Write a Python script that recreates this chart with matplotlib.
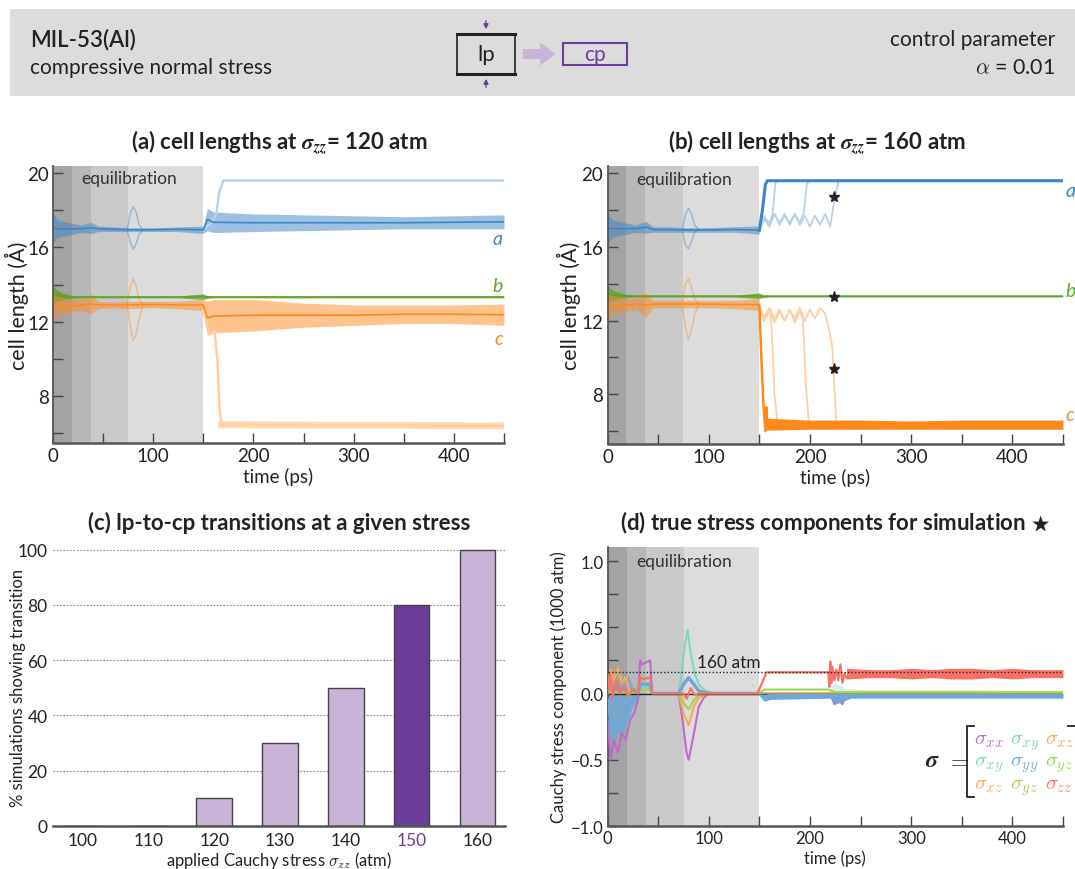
import matplotlib.pyplot as plt
import numpy as np
from matplotlib.patches import Rectangle

plt.rcParams['font.family'] = ['Lato', 'DejaVu Sans']
plt.rcParams['mathtext.fontset'] = 'cm'

# ---- colours
BLUE, LBLUE = '#3d85c6', '#b7d2ec'
GREEN = '#5fa52a'
ORANGE, LORANGE = '#ff8a1c', '#ffcfa3'
PURPLE, LPURPLE = '#6a3d9a', '#c9b3d6'
SHADES = ['#a3a3a3', '#b7b7b7', '#c9c9c9', '#dcdcdc']
EQ_EDGES = [0, 18.75, 37.5, 75, 150]

# ---- panel (a): sigma_zz = 120 atm, envelopes of the 10 runs
T_A = [0, 4, 10, 19, 28, 38, 45, 60, 75, 100, 125, 150, 154, 160, 200, 250, 300, 350, 400, 450]
A120_LO = [16.2, 16.5, 16.6, 16.7, 16.8, 16.75, 16.85, 16.85, 16.85, 16.85, 16.85, 16.75,
           16.9, 16.8, 16.85, 16.9, 16.95, 17.0, 17.0, 17.0]
A120_HI = [17.9, 17.5, 17.4, 17.3, 17.2, 17.35, 17.15, 17.1, 17.05, 17.05, 17.1, 17.15,
           18.1, 17.9, 17.8, 17.75, 17.7, 17.65, 17.7, 17.75]
B120_LO = [13.0, 13.1, 13.2, 13.25, 13.28, 13.28, 13.28, 13.28, 13.28, 13.28, 13.28, 13.2,
           13.25, 13.28, 13.28, 13.28, 13.28, 13.28, 13.28, 13.28]
B120_HI = [13.95, 13.7, 13.55, 13.42, 13.38, 13.38, 13.38, 13.38, 13.38, 13.38, 13.38, 13.5,
           13.4, 13.38, 13.38, 13.38, 13.38, 13.38, 13.38, 13.38]
C120_LO = [12.1, 12.3, 12.4, 12.5, 12.6, 12.4, 12.7, 12.75, 12.7, 12.75, 12.7, 12.6,
           11.3, 11.4, 11.5, 11.7, 11.8, 11.9, 11.9, 11.8]
C120_HI = [13.6, 13.4, 13.3, 13.2, 13.2, 13.5, 13.1, 13.05, 13.1, 13.1, 13.1, 13.2,
           13.1, 13.2, 13.2, 13.0, 12.9, 12.9, 12.9, 12.95]
T_BUMP = [74, 77, 80, 83, 86, 90]
A120_UP = [16.95, 17.8, 18.2, 17.9, 17.2, 16.95]
A120_DN = [16.95, 16.3, 15.9, 16.2, 16.7, 16.95]
C120_UP = [12.9, 13.9, 14.3, 13.9, 13.2, 12.9]
C120_DN = [12.9, 11.8, 11.0, 11.3, 12.2, 12.9]
A120_OUT_T = [150, 158, 163, 166, 170, 450]
A120_OUT = [17.0, 17.3, 17.8, 19.0, 19.6, 19.6]
C120_OUT_T = [150, 156, 161, 164, 166, 168, 450]
C120_OUT = [12.6, 11.3, 11.5, 10.0, 7.5, 6.45, 6.4]

# ---- panel (b): sigma_zz = 160 atm
T_B = [0, 4, 10, 19, 28, 38, 45, 60, 75, 100, 125, 150]
A160_LO = [16.1, 16.5, 16.6, 16.7, 16.8, 16.75, 16.8, 16.8, 16.8, 16.8, 16.8, 16.7]
A160_HI = [17.9, 17.5, 17.4, 17.3, 17.2, 17.4, 17.1, 17.1, 17.05, 17.05, 17.1, 17.15]
C160_LO = [12.0, 12.3, 12.4, 12.5, 12.6, 12.2, 12.7, 12.7, 12.7, 12.7, 12.65, 12.55]
C160_HI = [13.6, 13.4, 13.3, 13.2, 13.2, 13.5, 13.1, 13.1, 13.1, 13.1, 13.1, 13.2]
A160_UP = [16.95, 17.8, 18.1, 17.8, 17.2, 16.95]
A160_DN = [16.95, 16.1, 15.9, 16.3, 16.8, 16.95]
C160_UP = [12.9, 14.0, 14.3, 13.8, 13.2, 12.9]
C160_DN = [12.9, 11.6, 11.0, 11.5, 12.3, 12.9]
A160_MAIN_T = [150, 153, 156, 158, 450]
A160_MAIN = [16.9, 18.0, 19.4, 19.6, 19.6]
C160_MAIN_T = [150, 152, 154, 156, 157, 158, 160, 163]
C160_MAIN = [12.8, 10.0, 7.5, 6.0, 7.3, 6.3, 6.6, 6.3]
C160_BAND_T = [157, 200, 250, 300, 350, 400, 450]
C160_BAND_LO = [6.05, 6.1, 6.1, 6.1, 6.1, 6.1, 6.1]
C160_BAND_HI = [6.7, 6.6, 6.6, 6.55, 6.6, 6.6, 6.6]
# slower runs (light traces)
A160_R1_T = [150, 155, 160, 163, 166, 168, 450]
A160_R1 = [16.9, 17.6, 17.3, 17.8, 19.5, 19.6, 19.6]
A160_R2_T = [150, 155, 160, 165, 170, 175, 180, 185, 190, 194, 197, 199]
A160_R2 = [16.9, 17.7, 17.2, 17.8, 17.3, 17.8, 17.2, 17.8, 17.3, 17.9, 19.4, 19.6]
A160_R3_T = [150, 155, 160, 165, 170, 175, 180, 185, 190, 195, 200, 205, 210, 215, 220, 224, 228]
A160_R3 = [16.9, 17.5, 17.1, 17.8, 17.2, 17.7, 17.3, 17.8, 17.2, 17.7, 17.1, 17.7, 17.2, 17.8,
           17.1, 18.5, 19.5]
C160_R1_T = [150, 155, 160, 162, 165, 168, 450]
C160_R1 = [12.7, 12.0, 12.6, 11.8, 8.0, 6.4, 6.4]
C160_R2_T = [150, 155, 160, 165, 170, 175, 180, 185, 190, 193, 196, 199]
C160_R2 = [12.7, 12.0, 12.6, 11.9, 12.5, 12.0, 12.6, 11.9, 12.5, 12.1, 8.5, 6.4]
C160_R3_T = [150, 155, 160, 165, 170, 175, 180, 185, 190, 195, 200, 205, 210, 215, 219, 222, 224, 226, 230]
C160_R3 = [12.7, 12.2, 12.7, 12.1, 12.6, 12.0, 12.6, 12.1, 12.7, 12.0, 12.6, 12.1, 12.7, 12.4,
           11.5, 10.6, 8.5, 6.5, 6.4]
STAR_T = [224, 224, 224]
STAR_Y = [18.7, 13.3, 9.4]

# ---- panel (c)
STRESS = ['100', '110', '120', '130', '140', '150', '160']
PERCENT = [0, 0, 10, 30, 50, 80, 100]

# ---- panel (d): stress components (1000 atm) of the starred run
S_COLORS = {'xx': '#bb6bcc', 'xy': '#7ed6c4', 'xz': '#ffa74f',
            'yy': '#6ea8d8', 'yz': '#9dd650', 'zz': '#fa7065'}
XX_T = [0, 3, 6, 10, 14, 18, 22, 26, 30, 32, 34, 42, 44, 50, 70, 74, 78, 80, 84, 90, 95, 100,
        220, 224, 228, 232, 236, 450]
XX = [-0.2, -0.5, -0.35, -0.45, -0.3, -0.35, -0.2, -0.15, -0.05, 0.25, 0.22, 0.25, 0.0, 0.0,
      0.0, -0.2, -0.45, -0.5, -0.35, -0.1, -0.03, 0.0, 0.0, -0.08, -0.05, -0.08, 0.0, 0.0]
YY_T = [0, 5, 10, 15, 20, 25, 30, 32, 42, 44, 70, 75, 80, 85, 90, 100, 148]
YY = [-0.05, -0.3, -0.2, -0.25, -0.1, -0.05, 0.0, 0.07, 0.07, 0.0, 0.0, 0.07, 0.12, 0.07, 0.02,
      0.0, 0.0]
YY_NOISE_T = [0, 5, 10, 15, 20, 25, 30]
YY_NOISE_LO = [-0.3, -0.38, -0.3, -0.3, -0.2, -0.1, -0.05]
YY_NOISE_HI = [0.05, 0.0, 0.1, 0.0, 0.15, 0.05, 0.02]
YY_RUN_T = [148, 155, 160, 220, 225, 232, 240, 450]
YY_RUN_LO = [0.0, -0.06, -0.045, -0.035, -0.08, -0.06, -0.035, -0.035]
YY_RUN_HI = [0.0, -0.005, 0.0, 0.0, 0.0, 0.0, 0.0, 0.0]
XY_T = [0, 30, 32, 42, 44, 70, 73, 76, 79, 82, 86, 90, 95, 100, 110, 450]
XY = [0.0, 0.0, 0.05, 0.05, 0.0, 0.0, 0.15, 0.35, 0.48, 0.3, 0.15, 0.07, 0.03, 0.01, 0.0, 0.0]
XZ_T = [0, 3, 6, 10, 14, 18, 22, 30, 32, 42, 44, 70, 75, 80, 85, 90, 100, 450]
XZ = [0.05, 0.18, 0.1, 0.19, 0.08, 0.12, 0.0, 0.0, 0.03, 0.03, 0.0, 0.0, -0.15, -0.24, -0.1,
      -0.03, 0.0, 0.0]
YZ_T = [0, 30, 32, 42, 44, 70, 75, 80, 85, 90, 100, 148, 155, 218, 225, 450]
YZ = [0.02, 0.0, 0.03, 0.03, 0.0, 0.0, -0.07, -0.12, -0.05, -0.01, 0.0, 0.0, 0.03, 0.03, 0.01, 0.01]
ZZ_T = [0, 2, 5, 8, 12, 16, 20, 25, 30, 32, 35, 42, 44, 50, 70, 75, 78, 82, 86, 90, 100, 148,
        157, 218, 219, 220, 221, 222, 224, 226, 228, 230, 232, 234, 236]
ZZ = [0.0, 0.15, -0.03, 0.1, 0.0, 0.05, -0.02, 0.03, 0.0, 0.12, 0.11, 0.12, 0.0, 0.0, 0.0, 0.0,
      -0.04, 0.04, -0.01, 0.0, 0.0, 0.0, 0.16, 0.16, 0.05, 0.24, 0.08, 0.2, 0.1, 0.18, 0.1,
      0.22, 0.08, 0.15, 0.12]
ZZ_BAND_T = [236, 260, 280, 300, 320, 340, 360, 380, 400, 420, 450]
ZZ_BAND_LO = [0.11, 0.12, 0.12, 0.11, 0.12, 0.11, 0.11, 0.12, 0.11, 0.12, 0.12]
ZZ_BAND_HI = [0.19, 0.18, 0.18, 0.19, 0.18, 0.19, 0.19, 0.18, 0.19, 0.18, 0.18]
NOISE_T = [218, 225, 235, 250, 450]
NOISE_LO = [-0.01, -0.08, -0.03, -0.02, -0.02]
NOISE_HI = [0.02, 0.08, 0.04, 0.03, 0.025]
TARGET = 0.16

W, H = 1075, 870
fig = plt.figure(figsize=(W / 100, H / 100), dpi=100)
ov = fig.add_axes([0, 0, 1, 1])
ov.set_xlim(0, W)
ov.set_ylim(H, 0)
ov.axis('off')
ov.set_zorder(10)

BIG = 13.5    # tick / label size of panels (a), (b)
SMALL = 12    # tick / label size of panels (c), (d)
TITLE = 16


def px_axes(x0, y0, x1, y1):
    return fig.add_axes([x0 / W, 1 - y1 / H, (x1 - x0) / W, (y1 - y0) / H])


def style_time_axis(ax, size):
    for e0, e1, c in zip(EQ_EDGES[:-1], EQ_EDGES[1:], SHADES):
        ax.axvspan(e0, e1, color=c, lw=0, zorder=0)
    ax.set_xlim(0, 450)
    ax.set_xticks([0, 100, 200, 300, 400])
    ax.set_xticks([50, 150, 250, 350, 450], minor=True)
    for s in ['top', 'right']:
        ax.spines[s].set_visible(False)
    ax.spines['left'].set_color('#555555')
    ax.spines['bottom'].set_color('#555555')
    ax.spines['left'].set_linewidth(1.3)
    ax.spines['bottom'].set_linewidth(1.8)
    ax.tick_params(which='both', direction='in', length=7, width=1, color='#444444',
                   labelsize=size, labelcolor='#222222', pad=3)
    ax.set_xlabel('time (ps)', fontsize=size, color='#222222', labelpad=2)


def band(ax, t, lo, hi, color, alpha=0.5, z=2):
    ax.fill_between(t, lo, hi, color=color, alpha=alpha, lw=0, zorder=z)
    ax.plot(t, (np.array(lo) + np.array(hi)) / 2, color=color, lw=1.2, zorder=z + 0.1)


def cell_axis(ax, label_x):
    style_time_axis(ax, BIG)
    ax.set_yticks([8, 12, 16, 20])
    ax.set_yticks([6, 10, 14, 18], minor=True)
    ax.set_ylabel('cell length (Å)', fontsize=15.5, color='#222222')
    ax.yaxis.set_label_coords(label_x, 0.5)
    ax.text(28, 19.72, 'equilibration', fontsize=12.5, color='#333333', va='center')


def title(xc, yc, s):
    fig.text(xc / W, 1 - yc / H, s, fontsize=TITLE, fontweight='bold', color='#222222',
             ha='center', va='center', math_fontfamily='stix')


SIG_ZZ = r'$\mathbfit{\sigma}_{\mathbfit{zz}}$'

# ---------------- header
ov.add_patch(Rectangle((10, 10), 1080, 87, fc='#dcdcdc', ec='none'))
ov.text(30, 40, 'MIL-53(Al)', fontsize=16, fontweight='semibold', color='#222222', va='center')
ov.text(30, 68, 'compressive normal stress', fontsize=15, color='#222222', va='center')
ov.add_patch(Rectangle((457, 35), 58, 40, fc='none', ec='#222222', lw=1.2))
ov.plot([457, 515], [35, 35], color='#222222', lw=2.2)
ov.plot([457, 515], [75, 75], color='#222222', lw=2.2)
ov.text(486, 55, 'lp', fontsize=16, color='#222222', ha='center', va='center')
ov.annotate('', xy=(486, 33), xytext=(486, 19),
            arrowprops=dict(arrowstyle='-|>', color=PURPLE, lw=1, mutation_scale=7))
ov.annotate('', xy=(486, 77), xytext=(486, 91),
            arrowprops=dict(arrowstyle='-|>', color=PURPLE, lw=1, mutation_scale=7))
ov.annotate('', xy=(558, 55), xytext=(520, 55),
            arrowprops=dict(arrowstyle='simple,head_width=1.4,head_length=0.9,tail_width=0.6',
                            color=LPURPLE, lw=0, mutation_scale=12))
ov.add_patch(Rectangle((563, 44), 64, 22, fc='none', ec=PURPLE, lw=1.5))
ov.text(595, 55, 'cp', fontsize=15, color=PURPLE, ha='center', va='center')
ov.text(1055, 40, 'control parameter', fontsize=15, color='#222222', ha='right', va='center')
ov.text(1055, 68, r'$\alpha$ = 0.01', fontsize=15.5, color='#222222', ha='right', va='center')

# ---------------- panel (a)
ax_a = px_axes(53, 167, 504, 444)
cell_axis(ax_a, -0.053)
ax_a.set_ylim(5.47, 20.38)
band(ax_a, T_A, A120_LO, A120_HI, BLUE)
band(ax_a, T_A, B120_LO, B120_HI, GREEN, alpha=0.8)
band(ax_a, T_A, C120_LO, C120_HI, ORANGE)
for ys, c in [(A120_UP, BLUE), (A120_DN, BLUE), (C120_UP, ORANGE), (C120_DN, ORANGE)]:
    ax_a.plot(T_BUMP, ys, color=c, lw=1, alpha=0.45, zorder=2)
ax_a.plot(A120_OUT_T, A120_OUT, color=LBLUE, lw=1.8, zorder=2)
ax_a.plot(C120_OUT_T, C120_OUT, color=LORANGE, lw=1.8, zorder=2)
ax_a.plot(C120_OUT_T[-2:], C120_OUT[-2:], color=LORANGE, lw=5, alpha=0.8, zorder=2)
ax_a.text(449, 16.5, 'a', color=BLUE, fontsize=14, style='italic', ha='right', va='center')
ax_a.text(449, 13.95, 'b', color=GREEN, fontsize=14, style='italic', ha='right', va='center')
ax_a.text(449, 11.1, 'c', color=ORANGE, fontsize=14, style='italic', ha='right', va='center')
title(279, 143, '(a) cell lengths at ' + SIG_ZZ + '= 120 atm')

# ---------------- panel (b)
ax_b = px_axes(607.5, 167, 1063, 445)
cell_axis(ax_b, -0.058)
ax_b.set_ylim(5.3, 20.4)
band(ax_b, T_B, A160_LO, A160_HI, BLUE)
band(ax_b, T_A, B120_LO, B120_HI, GREEN, alpha=0.8)
band(ax_b, T_B, C160_LO, C160_HI, ORANGE)
for ys, c in [(A160_UP, BLUE), (A160_DN, BLUE), (C160_UP, ORANGE), (C160_DN, ORANGE)]:
    ax_b.plot(T_BUMP, ys, color=c, lw=1, alpha=0.45, zorder=2)
for t, ys in [(A160_R1_T, A160_R1), (A160_R2_T, A160_R2), (A160_R3_T, A160_R3)]:
    ax_b.plot(t, ys, color=LBLUE, lw=1.3, zorder=2)
for t, ys in [(C160_R1_T, C160_R1), (C160_R2_T, C160_R2), (C160_R3_T, C160_R3)]:
    ax_b.plot(t, ys, color=LORANGE, lw=1.3, zorder=2)
ax_b.plot(A160_MAIN_T, A160_MAIN, color=BLUE, lw=2.2, zorder=3)
ax_b.plot(C160_MAIN_T, C160_MAIN, color=ORANGE, lw=1.8, zorder=3)
ax_b.fill_between(C160_BAND_T, C160_BAND_LO, C160_BAND_HI, color=ORANGE, lw=0, zorder=3)
ax_b.plot(STAR_T, STAR_Y, ls='none', marker='*', ms=8, color='#222222', zorder=4)
ax_b.text(452, 19.05, 'a', color=BLUE, fontsize=14, style='italic', va='center', clip_on=False)
ax_b.text(452, 13.65, 'b', color=GREEN, fontsize=14, style='italic', va='center', clip_on=False)
ax_b.text(452, 6.9, 'c', color=ORANGE, fontsize=14, style='italic', va='center', clip_on=False)
title(817, 143, '(b) cell lengths at ' + SIG_ZZ + '= 160 atm')

# ---------------- panel (c)
ax_c = px_axes(53, 549, 505, 827)
x = np.arange(len(STRESS))
cols = [PURPLE if s == '150' else LPURPLE for s in STRESS]
ax_c.bar(x, PERCENT, width=0.54, color=cols, edgecolor='#444444', lw=1, zorder=3)
ax_c.set_xlim(-0.45, 6.42)
ax_c.set_ylim(0, 100.6)
ax_c.set_yticks([0, 20, 40, 60, 80, 100])
ax_c.set_xticks(x)
ax_c.set_xticklabels(STRESS)
ax_c.yaxis.grid(True, ls=(0, (1.5, 1.5)), color='#888888', lw=0.8, zorder=0)
for s in ['top', 'right', 'left']:
    ax_c.spines[s].set_visible(False)
ax_c.spines['bottom'].set_color('#555555')
ax_c.spines['bottom'].set_linewidth(1.8)
ax_c.spines['bottom'].set_zorder(4)
ax_c.tick_params(length=0, labelsize=12.5, labelcolor='#222222', pad=4)
ax_c.get_xticklabels()[STRESS.index('150')].set_color(PURPLE)
ax_c.set_ylabel('% simulations showing transition', fontsize=SMALL, color='#222222')
ax_c.yaxis.set_label_coords(-0.06, 0.5)
ax_c.set_xlabel(r'applied Cauchy stress $\sigma_{zz}$ (atm)', fontsize=SMALL,
                color='#222222', labelpad=1)
title(279, 523, '(c) lp-to-cp transitions at a given stress')

# ---------------- panel (d)
ax_d = px_axes(607.7, 548, 1063, 827)
style_time_axis(ax_d, SMALL)
ax_d.set_ylim(-1.0, 1.106)
ax_d.set_yticks([-1.0, -0.5, 0.0, 0.5, 1.0])
ax_d.set_yticks([-0.75, -0.25, 0.25, 0.75], minor=True)
ax_d.set_ylabel('Cauchy stress component (1000 atm)', fontsize=SMALL, color='#222222')
ax_d.yaxis.set_label_coords(-0.089, 0.5)
ax_d.text(28, 1.0, 'equilibration', fontsize=12.5, color='#333333', va='center')
ax_d.fill_between(YY_NOISE_T, YY_NOISE_LO, YY_NOISE_HI, color=S_COLORS['yy'], alpha=0.8,
                  lw=0, zorder=2)
ax_d.fill_between(NOISE_T, NOISE_LO, NOISE_HI, color=S_COLORS['xy'], alpha=0.35, lw=0, zorder=2)
ax_d.plot(XX_T, XX, color=S_COLORS['xx'], lw=1.5, zorder=3)
ax_d.plot(XY_T, XY, color=S_COLORS['xy'], lw=1.5, zorder=3)
ax_d.plot(XZ_T, XZ, color=S_COLORS['xz'], lw=1.5, zorder=3)
ax_d.plot(YZ_T, YZ, color=S_COLORS['yz'], lw=1.5, zorder=3)
ax_d.plot(YY_T, YY, color=S_COLORS['yy'], lw=2.5, zorder=3)
ax_d.fill_between(YY_RUN_T, YY_RUN_LO, YY_RUN_HI, color=S_COLORS['yy'], lw=0, zorder=3.6)
ax_d.axhline(0, color='#222222', lw=1, zorder=3.5)
ax_d.plot(ZZ_T, ZZ, color=S_COLORS['zz'], lw=1.6, zorder=4)
ax_d.fill_between(ZZ_BAND_T, ZZ_BAND_LO, ZZ_BAND_HI, color=S_COLORS['zz'], lw=0, zorder=4)
ax_d.axhline(TARGET, color='#222222', lw=1, ls=(0, (1, 1.5)), zorder=5)
ax_d.text(88, TARGET + 0.015, '160 atm', fontsize=12.5, color='#222222', va='bottom')
title(835, 523, r'(d) true stress components for simulation $\bigstar$')

# matrix legend
ov.text(925, 767, r'$\mathbfit{\sigma}$', fontsize=17, color='#222222', ha='left',
        va='baseline', math_fontfamily='stix')
ov.text(946, 767, r'$=$', fontsize=17, color='#222222', ha='left', va='baseline')
ov.plot([974, 967, 967, 974], [727, 727, 798, 798], color='#222222', lw=1.3)
ov.plot([1068, 1075], [727, 727], color='#222222', lw=1.3)
rows = [['xx', 'xy', 'xz'], ['xy', 'yy', 'yz'], ['xz', 'yz', 'zz']]
for i, row in enumerate(rows):
    for j, comp in enumerate(row):
        ov.text(974 + j * 35.5, 744 + i * 22.5, r'$\sigma_{%s}$' % comp, fontsize=15,
                color=S_COLORS[comp], va='baseline')

fig.savefig('out.png', dpi=100)
